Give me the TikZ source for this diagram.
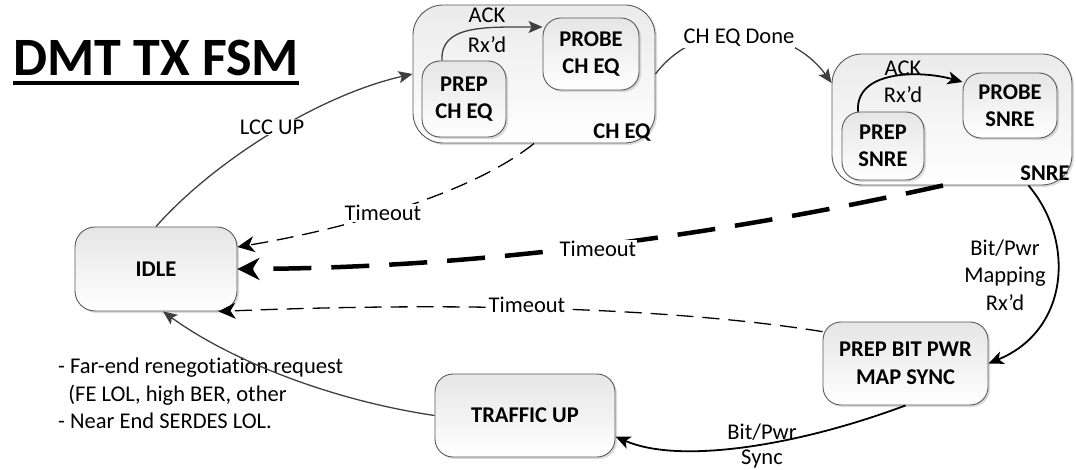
\documentclass[tikz,border=0pt]{standalone}
\usepackage{fontspec}
\setmainfont{Carlito}[RawFeature={-liga;-clig;-calt}]
\usetikzlibrary{arrows.meta,shadows}
\begin{document}
\begin{tikzpicture}[x=1pt,y=-1pt,
  txt/.style={font=\fontsize{22.5}{27.5}\selectfont, align=center, inner sep=1pt},
  lbl/.style={txt, fill=white},
  statebox/.style={draw=black!65, line width=0.9pt, rounded corners=18pt,
    top color=black!10, bottom color=white,
    drop shadow={shadow xshift=2pt,shadow yshift=-2pt,opacity=0.3,fill=black!45},
    align=center, font=\fontsize{22.5}{27.5}\selectfont\bfseries, inner sep=0pt},
  outerbox/.style={statebox, rounded corners=30pt, top color=black!8},
  garrow/.style={draw=black!75, line width=1.3pt, -{Stealth[length=14pt,width=12pt,inset=3pt]}},
  barrow/.style={draw=black, line width=1.8pt, -{Stealth[length=15pt,width=13pt,inset=4pt]}},
  darrow/.style={draw=black, line width=1.3pt, dash pattern=on 17pt off 9pt, -{Stealth[length=17pt,width=16pt,inset=5pt]}},
  tdarrow/.style={draw=black, line width=4.5pt, dash pattern=on 38pt off 20pt, -{Stealth[length=22pt,width=22pt,inset=7pt]}}
]
\useasboundingbox (0,0) rectangle (1076,470);

% title
\node[anchor=base west, inner sep=0pt, font=\fontsize{54}{60}\selectfont\bfseries] (title) at (13,76) {DMT TX FSM};
\draw[line width=3.2pt] ([yshift=-7pt]title.base west) -- ([yshift=-7pt]title.base east);

% states
\node[statebox, minimum width=162pt, minimum height=84pt, rounded corners=20pt] (idle) at (156,269) {IDLE};

\node[outerbox, minimum width=242pt, minimum height=138pt] (cheq) at (534,74) {};
\node[statebox, minimum width=84pt, minimum height=76pt] (pcheq) at (464,99) {PREP\\CH EQ};
\node[statebox, minimum width=96pt, minimum height=72pt] (bcheq) at (591,54) {PROBE\\CH EQ};
\node[txt, font=\fontsize{22.5}{27.5}\selectfont\bfseries] (cheqlbl) at (622,133) {CH EQ};

\node[outerbox, minimum width=240pt, minimum height=131pt] (snre) at (952,119.5) {};
\node[statebox, minimum width=82pt, minimum height=68pt] (psnre) at (883,146) {PREP\\SNRE};
\node[statebox, minimum width=94pt, minimum height=65pt] (bsnre) at (1010,105.5) {PROBE\\SNRE};
\node[txt, font=\fontsize{22.5}{27.5}\selectfont\bfseries] (snrelbl) at (1045,173) {SNRE};

\node[statebox, minimum width=165pt, minimum height=83pt] (pbp) at (905.5,363.5) {PREP BIT PWR\\MAP SYNC};
\node[statebox, minimum width=180pt, minimum height=83pt] (traffic) at (525,415.5) {TRAFFIC UP};

% inner transitions
\draw[garrow] ([xshift=-22pt]pcheq.north) .. controls (440,25) and (485,27) .. ([yshift=27pt]bcheq.west);
\node[txt] (ack1) at (487,15) {ACK};
\node[txt] (rx1) at (487,45) {Rx’d};

\draw[barrow] ([xshift=-25pt]psnre.north) .. controls (855,70) and (920,70) .. ([yshift=23.5pt]bsnre.west);
\node[txt] (ack2) at (903,68) {ACK};
\node[txt] (rx2) at (903,95) {Rx’d};

% LCC UP
\draw[garrow] (idle.north) .. controls (215,160) and (320,95) .. (cheq.west);
\node[lbl] (lcc) at (272,127) {LCC UP};

% CH EQ Done
\draw[garrow] (cheq.east) .. controls (700,15) and (790,25) .. ([yshift=36.5pt]snre.west);
\node[lbl] (cheqdone) at (739,38) {CH EQ Done};

% Timeouts
\draw[darrow] (cheq.south) .. controls (470,195) and (340,230) .. ([yshift=22pt]idle.east);
\node[lbl] (to1) at (383,213) {Timeout};

\draw[tdarrow] ([xshift=-9pt]snre.south) .. controls (720,235) and (480,268) .. (idle.east);
\node[lbl] (to2) at (598,249) {Timeout};

\draw[darrow] (pbp.159) .. controls (700,312) and (500,300) .. ([xshift=-19pt]idle.south east);
\node[lbl] (to3) at (527,305) {Timeout};

% Bit/Pwr mapping
\draw[barrow] ([xshift=-44pt]snre.south east) .. controls (1075,240) and (1070,330) .. (pbp.east);
\node[txt] (bpm) at (1005,275) {Bit/Pwr\\Mapping\\Rx’d};

% Bit/Pwr Sync
\draw[barrow] (pbp.south) .. controls (800,445) and (680,465) .. ([yshift=-21pt]traffic.east);
\node[txt, font=\fontsize{22.5}{25}\selectfont] (bps) at (762,446) {Bit/Pwr\\Sync};

% traffic up -> idle
\node[txt, align=left, anchor=north west] (reneg) at (57,357) {- Far-end renegotiation request\\\ \ (FE LOL, high BER, other\\- Near End SERDES LOL.};
\draw[garrow] (traffic.west) .. controls (330,400) and (230,360) .. ([xshift=7pt]idle.south);

\end{tikzpicture}
\end{document}
